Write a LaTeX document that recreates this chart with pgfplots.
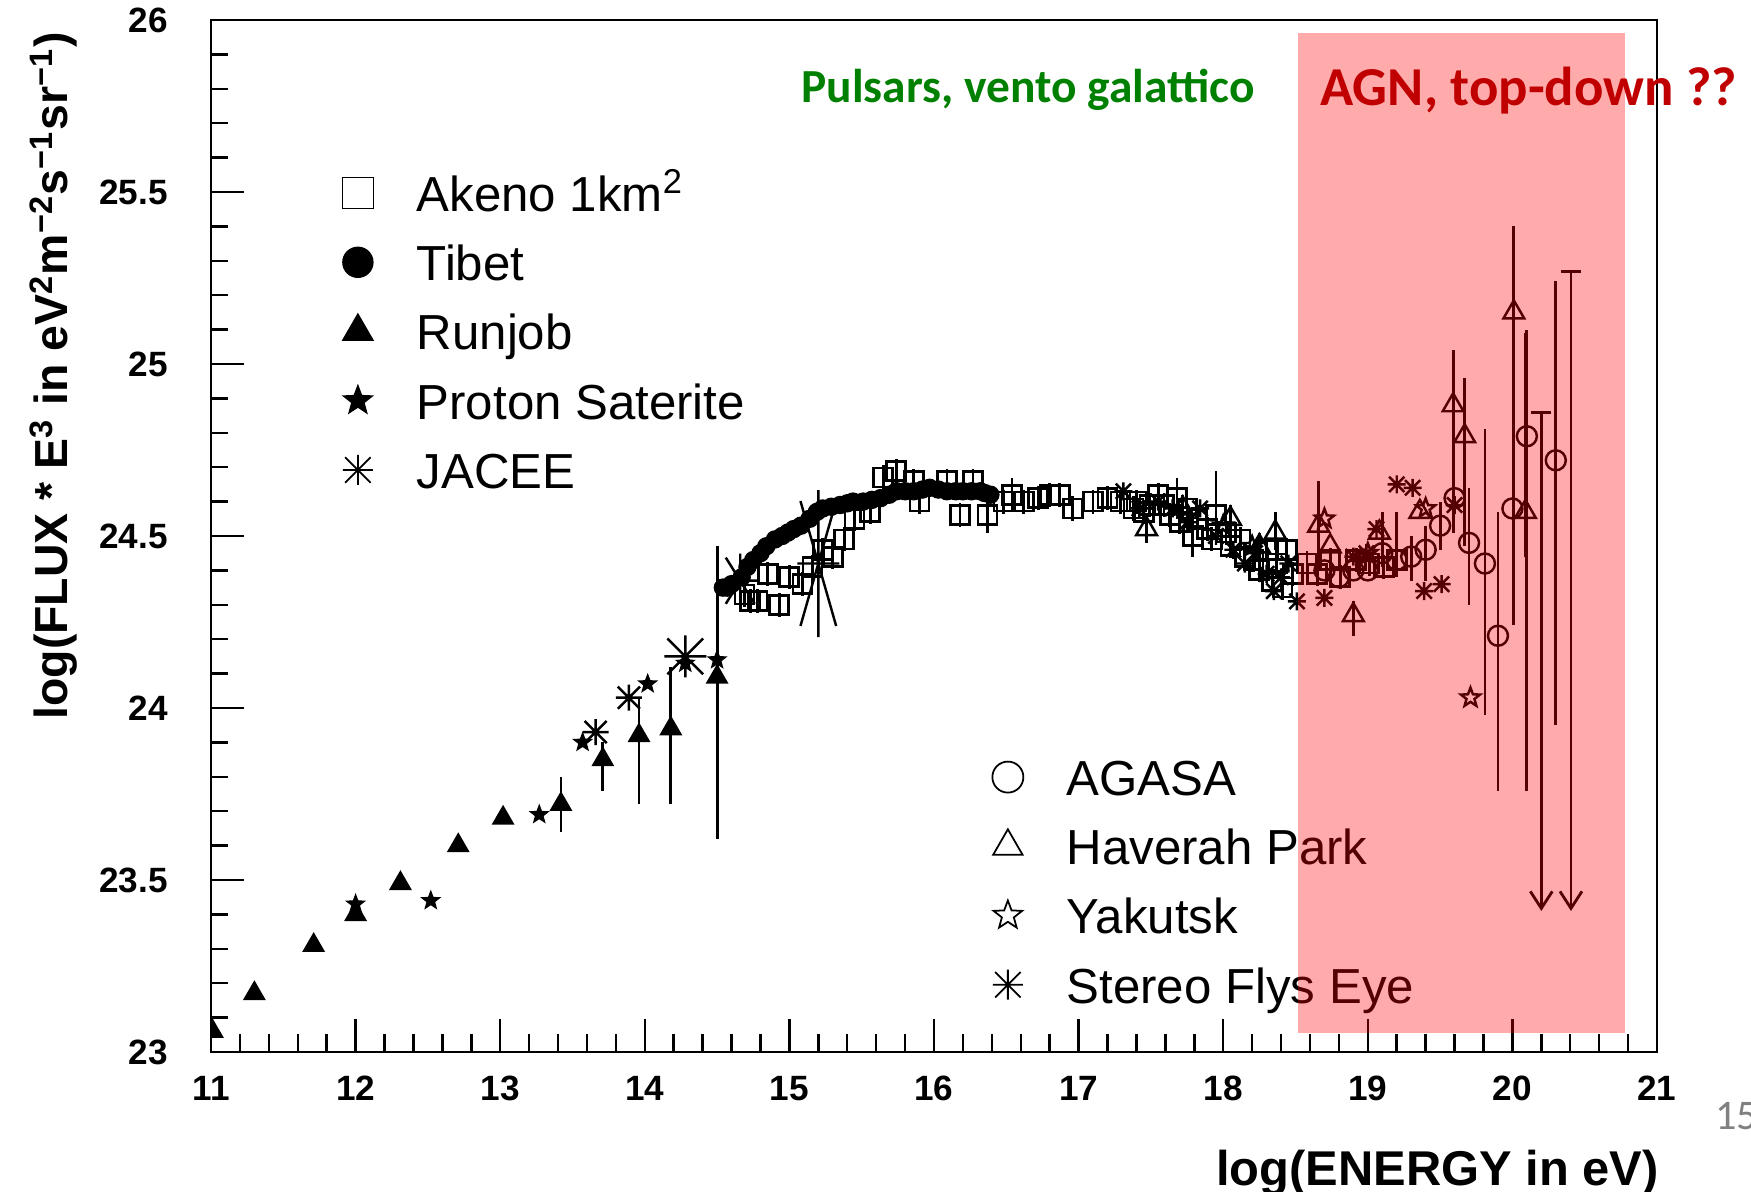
\documentclass[border=0pt]{standalone}
\usepackage{fontspec}
\setmainfont{Liberation Sans}
\newfontfamily\carlito{Carlito}
\usepackage{pgfplots}
\pgfplotsset{compat=1.18}
\usetikzlibrary{arrows.meta}
\definecolor{pgreen}{RGB}{0,128,0}
\definecolor{agnred}{RGB}{192,0,0}

\pgfdeclareplotmark{ast8}{%
  \pgfpathmoveto{\pgfqpoint{-\pgfplotmarksize}{0pt}}\pgfpathlineto{\pgfqpoint{\pgfplotmarksize}{0pt}}%
  \pgfpathmoveto{\pgfqpoint{0pt}{-\pgfplotmarksize}}\pgfpathlineto{\pgfqpoint{0pt}{\pgfplotmarksize}}%
  \pgfpathmoveto{\pgfqpoint{-0.85\pgfplotmarksize}{-0.85\pgfplotmarksize}}\pgfpathlineto{\pgfqpoint{0.85\pgfplotmarksize}{0.85\pgfplotmarksize}}%
  \pgfpathmoveto{\pgfqpoint{-0.85\pgfplotmarksize}{0.85\pgfplotmarksize}}\pgfpathlineto{\pgfqpoint{0.85\pgfplotmarksize}{-0.85\pgfplotmarksize}}%
  \pgfusepathqstroke}
\def\starpath{%
  \pgfpathmoveto{\pgfqpointpolar{90}{\pgfplotmarksize}}%
  \pgfpathlineto{\pgfqpointpolar{126}{0.42\pgfplotmarksize}}%
  \pgfpathlineto{\pgfqpointpolar{162}{\pgfplotmarksize}}%
  \pgfpathlineto{\pgfqpointpolar{198}{0.42\pgfplotmarksize}}%
  \pgfpathlineto{\pgfqpointpolar{234}{\pgfplotmarksize}}%
  \pgfpathlineto{\pgfqpointpolar{270}{0.42\pgfplotmarksize}}%
  \pgfpathlineto{\pgfqpointpolar{306}{\pgfplotmarksize}}%
  \pgfpathlineto{\pgfqpointpolar{342}{0.42\pgfplotmarksize}}%
  \pgfpathlineto{\pgfqpointpolar{18}{\pgfplotmarksize}}%
  \pgfpathlineto{\pgfqpointpolar{54}{0.42\pgfplotmarksize}}%
  \pgfpathclose}
\pgfdeclareplotmark{fstar}{\starpath\pgfusepathqfillstroke}
\pgfdeclareplotmark{ostar}{\starpath\pgfusepathqstroke}

\pgfplotsset{
  common/.style={
    at={(0,0)}, anchor=south west, scale only axis,
    width=14.46cm, height=10.32cm,
    xmin=11, xmax=21, ymin=23, ymax=26,
    legend cell align=left,
    legend image code/.code={\draw[##1] plot coordinates {(0.15cm,0.06cm)}; \path (0cm,0cm) (0.73cm,0cm);},
  },
  lstyle/.style={draw=none, fill=none, inner sep=0pt, outer sep=0pt,
    font=\fontsize{14}{16}\selectfont, row sep=0.20cm,
    nodes={inner sep=0pt, text height=10.5pt, text depth=3.5pt}},
}

\pgfplotstableread{
x y ep em
14.69 24.33 0.035 0.035
14.73 24.31 0.035 0.035
14.78 24.31 0.035 0.035
14.85 24.39 0.035 0.035
14.93 24.30 0.035 0.035
15.00 24.38 0.035 0.035
15.09 24.36 0.035 0.035
15.16 24.41 0.035 0.035
15.23 24.46 0.035 0.035
15.30 24.44 0.035 0.035
15.38 24.49 0.035 0.035
15.45 24.55 0.035 0.035
15.56 24.57 0.035 0.035
15.65 24.67 0.035 0.035
15.74 24.69 0.035 0.035
15.86 24.66 0.035 0.035
15.90 24.60 0.035 0.035
16.09 24.66 0.035 0.035
16.18 24.56 0.035 0.035
16.27 24.66 0.035 0.035
16.37 24.56 0.035 0.05
16.48 24.60 0.035 0.035
16.54 24.62 0.05 0.05
16.62 24.60 0.035 0.035
16.72 24.61 0.035 0.035
16.80 24.62 0.035 0.035
16.87 24.62 0.035 0.035
16.96 24.58 0.035 0.035
17.10 24.60 0.035 0.035
17.20 24.61 0.035 0.035
17.29 24.60 0.035 0.035
17.38 24.58 0.035 0.035
17.40 24.60 0.035 0.035
17.45 24.57 0.035 0.035
17.49 24.59 0.035 0.035
17.55 24.62 0.035 0.035
17.59 24.59 0.035 0.035
17.63 24.56 0.035 0.035
17.68 24.61 0.06 0.035
17.70 24.54 0.035 0.035
17.75 24.58 0.035 0.035
17.79 24.50 0.06 0.06
17.82 24.55 0.035 0.035
17.89 24.52 0.035 0.035
17.92 24.49 0.035 0.035
17.95 24.56 0.13 0.035
18.02 24.51 0.035 0.035
18.05 24.47 0.035 0.035
18.12 24.49 0.035 0.035
18.15 24.44 0.035 0.035
18.21 24.43 0.035 0.035
18.25 24.40 0.035 0.035
18.30 24.46 0.035 0.035
18.34 24.37 0.035 0.035
18.37 24.42 0.035 0.035
18.41 24.35 0.035 0.035
18.44 24.46 0.035 0.035
18.48 24.39 0.035 0.035
18.58 24.42 0.035 0.035
18.65 24.39 0.035 0.035
18.74 24.43 0.035 0.035
18.81 24.38 0.035 0.035
18.92 24.43 0.035 0.035
19.01 24.42 0.035 0.035
19.11 24.41 0.035 0.035
19.20 24.43 0.035 0.035
}\akeno

\pgfplotstableread{
x y
14.54 24.35
14.57 24.35
14.60 24.36
14.67 24.38
14.71 24.41
14.75 24.43
14.80 24.45
14.84 24.47
14.90 24.49
14.95 24.50
14.99 24.51
15.03 24.52
15.08 24.53
15.14 24.55
15.19 24.57
15.23 24.58
15.29 24.585
15.35 24.59
15.40 24.595
15.44 24.60
15.51 24.60
15.57 24.605
15.63 24.61
15.69 24.62
15.74 24.63
15.80 24.63
15.86 24.63
15.92 24.635
15.97 24.64
16.03 24.635
16.09 24.63
16.15 24.63
16.20 24.63
16.26 24.63
16.32 24.63
16.35 24.625
16.39 24.62
}\tibet

\pgfplotstableread{
x y ep em
11.01 23.06 0 0
11.30 23.17 0 0
11.71 23.31 0 0
12.00 23.40 0 0
12.31 23.49 0 0
12.71 23.60 0 0
13.02 23.68 0 0
13.42 23.72 0.08 0.08
13.71 23.85 0.05 0.09
13.96 23.92 0.11 0.20
14.18 23.94 0.18 0.22
14.50 24.09 0.38 0.47
}\runjob

\pgfplotstableread{
x y
12.00 23.43
12.52 23.44
13.27 23.69
13.57 23.90
14.02 24.07
14.28 24.13
14.50 24.14
}\proton

\pgfplotstableread{
x y ep em
18.70 24.40 0 0
18.80 24.38 0 0
18.90 24.40 0 0
19.00 24.40 0 0
19.10 24.45 0.12 0.04
19.20 24.43 0.14 0.05
19.30 24.44 0.06 0.07
19.40 24.46 0.07 0.09
19.50 24.53 0.07 0.07
19.60 24.61 0 0
19.70 24.48 0.16 0.18
19.81 24.42 0.39 0.44
19.90 24.21 0.36 0.45
20.00 24.58 0 0
20.10 24.79 0.31 1.03
20.30 24.72 0.52 0.77
}\agasa

\pgfplotstableread{
x y ep em
17.47 24.52 0.04 0.04
17.72 24.58 0.04 0.04
18.05 24.55 0.04 0.04
18.25 24.47 0.04 0.04
18.36 24.51 0.06 0.05
18.66 24.53 0.13 0.12
18.74 24.47 0 0
18.90 24.27 0.04 0.06
19.08 24.51 0 0
19.36 24.57 0 0
19.59 24.88 0.16 0.37
19.67 24.79 0.17 0.32
20.01 25.15 0.25 0.91
20.09 24.57 0.52 0.13
}\haverah

\pgfplotstableread{
x y
18.00 24.53
18.20 24.47
18.70 24.55
19.00 24.45
19.40 24.58
19.71 24.03
}\yakutsk

\pgfplotstableread{
x y
17.31 24.63
17.42 24.58
17.55 24.60
17.65 24.58
17.75 24.54
17.84 24.58
17.95 24.50
18.07 24.46
18.15 24.42
18.22 24.45
18.30 24.39
18.35 24.34
18.40 24.38
18.45 24.42
18.51 24.31
18.70 24.32
18.90 24.44
18.99 24.45
19.06 24.52
19.20 24.65
19.31 24.64
19.39 24.34
19.51 24.36
19.60 24.59
}\flyseye

\begin{document}
\begin{tikzpicture}
\useasboundingbox (-2.11cm,-1.40cm) rectangle (15.40cm,10.52cm);

\begin{axis}[common,
  axis line style={line width=0.8pt},
  xtick={11,12,13,14,15,16,17,18,19,20,21},
  xticklabels={11,12,13,14,15,16,17,18,19,20,21},
  ytick={23,23.5,24,24.5,25,25.5,26},
  yticklabels={23,23.5,24,24.5,25,25.5,26},
  minor x tick num=4, minor y tick num=4,
  tick align=inside, xtick pos=left, ytick pos=left,
  major tick length=0.33cm, minor tick length=0.175cm,
  tick style={black, line width=0.7pt},
  tick label style={font=\bfseries\fontsize{10}{12}\selectfont},
  /pgf/number format/assume math mode=true,
  xticklabel style={yshift=-0.12cm},
  yticklabel style={xshift=-0.31cm},
  clip marker paths=true,
  legend style={lstyle, at={(axis description cs:0.0906,0.8503)}, anchor=north west},
]
\addplot[only marks, black, mark=square, mark size=0.095cm, line width=0.8pt,
  legend image post style={mark size=0.155cm, line width=0.5pt},
  error bars/.cd, y dir=both, y explicit, error mark=none,
  error bar style={line width=0.8pt}]
  table[x=x, y=y, y error plus=ep, y error minus=em] {\akeno};
\addlegendentry{Akeno 1km\textsuperscript{2}}
\addplot[only marks, black, mark=*, mark size=0.085cm,
  legend image post style={mark size=0.15cm}]
  table[x=x, y=y] {\tibet};
\addlegendentry{Tibet}
\addplot[only marks, black, mark=triangle*, mark size=0.115cm, line width=0.5pt,
  legend image post style={mark size=0.17cm},
  error bars/.cd, y dir=both, y explicit, error mark=none,
  error bar style={line width=0.8pt}]
  table[x=x, y=y, y error plus=ep, y error minus=em] {\runjob};
\addlegendentry{Runjob}
\addplot[only marks, black, mark=fstar, mark size=0.09cm, mark options={fill=black}, line width=0.4pt,
  legend image post style={mark size=0.15cm}]
  table[x=x, y=y] {\proton};
\addlegendentry{Proton Saterite}
\addplot[only marks, black, mark=ast8, mark size=0.13cm, line width=0.7pt,
  legend image post style={mark size=0.15cm, line width=0.5pt}]
  coordinates {(13.66,23.93) (13.89,24.03)};
\addlegendentry{JACEE}
\addplot[forget plot, only marks, black, mark=ast8, mark size=0.21cm, line width=0.7pt]
  coordinates {(14.28,24.15)};
\addplot[forget plot, only marks, black, mark=ast8, mark size=0.17cm, line width=0.7pt,
  mark options={yscale=1.6}]
  coordinates {(14.66,24.37)};
\addplot[forget plot, only marks, black, mark=ast8, mark size=0.21cm, line width=0.7pt,
  mark options={yscale=3.5}]
  coordinates {(15.20,24.42)};
\end{axis}

\begin{axis}[common, hide axis,
  legend style={lstyle, at={(axis description cs:0.5401,0.2844)}, anchor=north west},
]
\addplot[only marks, black, mark=o, mark size=0.1cm, line width=0.7pt,
  legend image post style={mark size=0.155cm, line width=0.5pt},
  error bars/.cd, y dir=both, y explicit, error mark=none,
  error bar style={line width=0.8pt}]
  table[x=x, y=y, y error plus=ep, y error minus=em] {\agasa};
\addlegendentry{AGASA}
\addplot[only marks, black, mark=triangle, mark size=0.12cm, line width=0.7pt,
  legend image post style={mark size=0.17cm, line width=0.5pt},
  error bars/.cd, y dir=both, y explicit, error mark=none,
  error bar style={line width=0.8pt}]
  table[x=x, y=y, y error plus=ep, y error minus=em] {\haverah};
\addlegendentry{Haverah Park}
\addplot[only marks, black, mark=ostar, mark size=0.1cm, line width=0.7pt,
  legend image post style={mark size=0.15cm, line width=0.5pt}]
  table[x=x, y=y] {\yakutsk};
\addlegendentry{Yakutsk}
\addplot[only marks, black, mark=ast8, mark size=0.09cm, line width=0.7pt,
  legend image post style={mark size=0.15cm, line width=0.5pt}]
  table[x=x, y=y] {\flyseye};
\addlegendentry{Stereo Flys Eye}
\addplot[forget plot, black, line width=0.8pt, -{Straight Barb[length=0.17cm,width=0.22cm]},
  mark=-, mark indices={1}, mark size=0.1cm]
  coordinates {(20.20,24.86) (20.20,23.41)};
\addplot[forget plot, black, line width=0.8pt, -{Straight Barb[length=0.17cm,width=0.22cm]},
  mark=-, mark indices={1}, mark size=0.1cm]
  coordinates {(20.405,25.27) (20.405,23.41)};
\end{axis}

\begin{axis}[common, hide axis]
\fill[red, opacity=0.33] (axis cs:18.515,23.055) rectangle (axis cs:20.777,25.961);
\end{axis}

\node[anchor=base east, font=\bfseries\fontsize{13.9}{16}\selectfont] at (14.60cm,-1.34cm) {log(ENERGY in eV)};
\node[rotate=90, anchor=base east, font=\bfseries\fontsize{13.2}{16}\selectfont] at (-1.43cm,10.32cm)
  {log(FLUX * E\textsuperscript{3} in eV\textsuperscript{2}m\textsuperscript{−2}s\textsuperscript{−1}sr\textsuperscript{−1})};
\node[anchor=base, text=pgreen, font=\carlito\bfseries\fontsize{13.5}{16}\selectfont] at (8.17cm,9.49cm) {Pulsars, vento galattico};
\node[anchor=base west, text=agnred, font=\carlito\bfseries\fontsize{15.6}{19}\selectfont] at (10.97cm,9.46cm) {AGN, top-down ??};
\node[anchor=base west, text=gray, font=\carlito\fontsize{12}{14}\selectfont] at (14.92cm,-0.78cm) {15};
\end{tikzpicture}
\end{document}
